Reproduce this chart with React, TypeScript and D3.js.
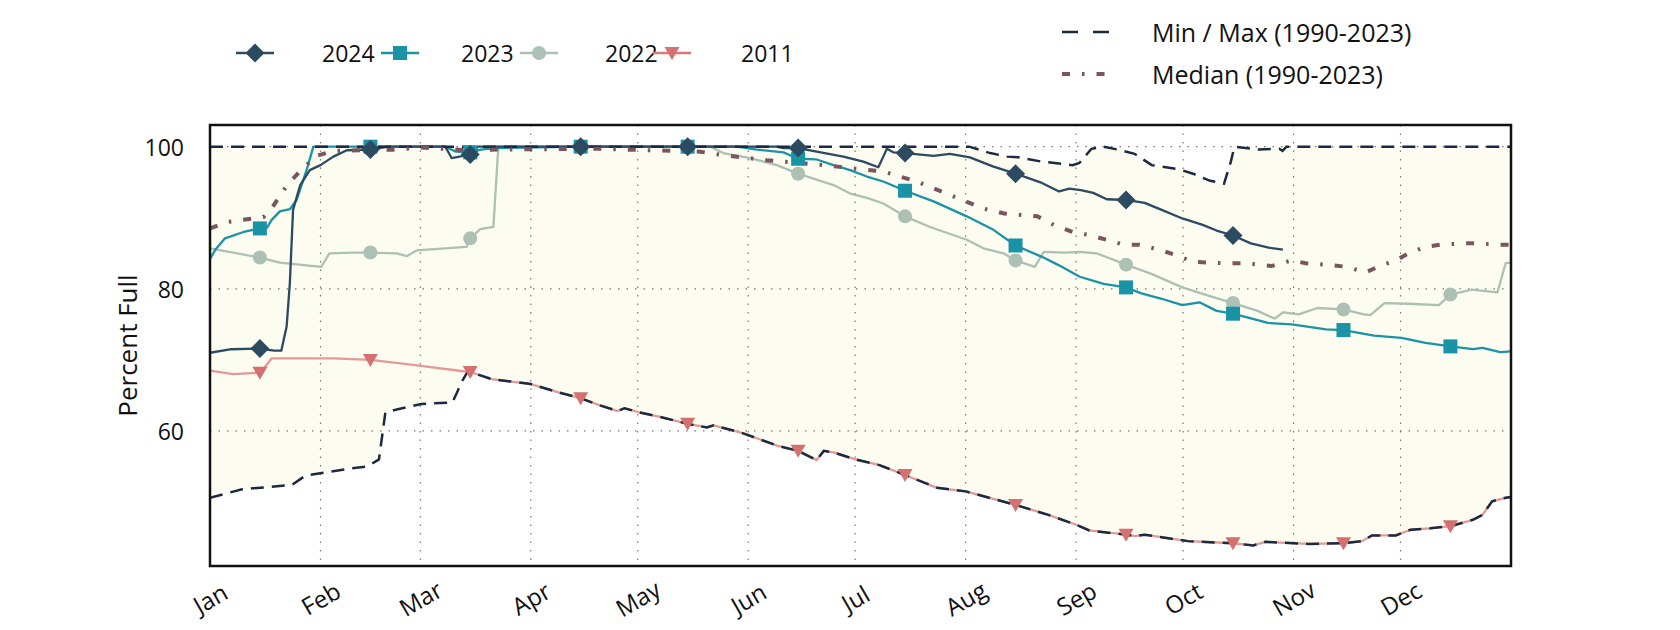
import React, { useEffect } from "react";
import * as d3 from "d3";

// day-of-year (0 = Jan 1) , percent full
const s2024: [number, number][] = [
  [0, 71.0], [6, 71.5], [14, 71.6], [18, 71.3], [20, 71.3], [21.5, 74.7], [22.4, 80.8], [23.3, 91.1],
  [25.3, 94.6], [28, 96.7], [31, 97.4], [34.6, 98.6], [38.4, 99.5], [45, 99.6], [50, 100], [66, 100],
  [67.8, 98.4], [70, 98.6], [73, 98.9], [75, 100], [104, 100], [134, 100], [159, 100], [160.8, 99.8],
  [165, 99.8], [170.2, 99.3], [177.7, 98.6], [183.3, 97.9], [187.5, 97.1], [188.9, 98.6], [189.9, 99.7],
  [191.7, 99.2], [195, 99.1], [203, 98.7], [207.6, 99.0], [213.2, 98.5], [219.8, 97.2], [226, 96.2],
  [233.4, 94.9], [238.2, 93.7], [241.1, 94.1], [244.3, 93.9], [247.8, 93.5], [251.6, 92.6], [257, 92.5],
  [262.2, 92.1], [267, 91.1], [272.8, 89.9], [278.5, 89.0], [282.4, 88.2], [287, 87.5], [292, 86.4],
  [297, 85.8], [301, 85.5],
];

const s2023: [number, number][] = [
  [0, 84.2], [1.5, 85.5], [4.2, 87.1], [9.4, 88.0], [14, 88.5], [16, 88.6], [17.3, 89.7], [19.6, 90.9],
  [22.4, 91.2], [24.3, 92.5], [27.1, 96.7], [29, 100], [45, 100], [66, 100], [69, 99.3], [73, 99.2],
  [76, 99.6], [80, 99.8], [104, 100], [134, 100], [147.8, 100], [153.4, 99.6], [160.9, 99.2], [165, 98.3],
  [170.2, 98.2], [174.9, 97.4], [179.6, 96.7], [184.3, 95.8], [188.9, 95.1], [195, 93.8], [203, 92.3],
  [212.3, 90.2], [219.8, 88.3], [226, 86.1], [233.4, 84.5], [238.2, 83.3], [244, 81.7], [250.7, 80.7],
  [257, 80.2], [261.1, 79.4], [267, 78.6], [272.8, 77.7], [277.6, 78.1], [282.4, 76.9], [287, 76.5],
  [296.8, 75.2], [303.5, 75.0], [313.1, 74.3], [318, 74.2], [326.6, 73.4], [334.3, 73.1], [341, 72.4],
  [348, 71.9], [354.3, 71.5], [357, 71.7], [362, 71.1], [365, 71.2],
];

const s2022: [number, number][] = [
  [0, 85.7], [14, 84.4], [19.6, 83.7], [31.2, 83.1], [33.5, 85.0], [40, 85.1], [45, 85.1], [52.4, 85.0],
  [55.2, 84.6], [58, 85.4], [72, 85.9], [73, 87.1], [75.8, 88.4], [79.5, 88.7], [80.9, 100], [104, 100],
  [134, 100], [140.3, 100], [144, 99.1], [151.5, 98.4], [159, 97.4], [165, 96.2], [174.9, 94.6],
  [179.6, 93.4], [184.3, 92.8], [188.9, 92.0], [195, 90.2], [202, 88.7], [212.3, 86.9], [217, 85.7],
  [222.6, 85.0], [226, 84.0], [231.4, 83.1], [233.9, 85.2], [240, 85.1], [244, 85.2], [248.7, 85.0],
  [257, 83.4], [264.1, 82.1], [272.8, 80.2], [278.5, 79.3], [287, 78.0], [293.9, 76.9], [298.7, 75.8],
  [301.1, 76.7], [305.4, 76.4], [310.7, 77.3], [318, 77.1], [323.7, 76.4], [325.5, 76.3], [329.5, 78.0],
  [336.2, 77.9], [344.8, 77.7], [348, 79.2], [354, 79.9], [361.2, 79.5], [363.5, 83.6], [365, 83.7],
];

const s2011: [number, number][] = [
  [0, 68.5], [6.5, 68.0], [14, 68.2], [15.4, 69.0], [17.3, 70.2], [34.6, 70.2], [45, 70.0], [57, 69.3],
  [71, 68.4], [73, 68.3], [79, 67.3], [90, 66.6], [98, 65.4], [104, 64.6], [109.4, 63.6], [114.4, 62.8],
  [116.3, 63.2], [120.5, 62.6], [126.9, 61.9], [134, 61.0], [139.4, 60.5], [141.3, 60.8], [149.4, 59.7],
  [159.3, 57.9], [165, 57.2], [170.2, 55.9], [172.2, 57.2], [174.9, 57.0], [181, 56.0], [187.8, 55.2],
  [195, 53.8], [204, 52.0], [212, 51.5], [226, 49.6], [235.2, 48.2], [243, 46.8], [246.7, 46.0],
  [257, 45.4], [259.5, 45.2], [262.2, 45.4], [274.4, 44.5], [287, 44.2], [292.7, 43.9], [296.1, 44.4],
  [308.3, 44.1], [318, 44.2], [323.2, 44.5], [326, 45.3], [332.7, 45.3], [336.8, 46.1], [342.3, 46.3],
  [348, 46.6], [354.3, 47.5], [357, 48.2], [359.7, 50.1], [363.5, 50.6], [365, 50.7],
];

// min before it joins the 2011 curve in mid March
const minEarly: [number, number][] = [
  [0, 50.6], [9, 51.8], [23, 52.4], [26.7, 53.7], [39.2, 54.7], [44.2, 55.0], [47.4, 56.0], [49.2, 62.6],
  [53, 63.1], [59.3, 63.8], [68, 64.0], [69.3, 65.4], [70.5, 66.8], [72, 68.1],
];

const maxVals: [number, number][] = [
  [0, 100], [213, 100], [218.9, 99.1], [223.6, 98.6], [226.9, 98.5], [233.3, 97.9], [242, 97.4],
  [243.9, 97.7], [247.3, 99.7], [250.7, 100], [255.5, 99.5], [259.4, 99], [264.2, 97.4], [267.1, 97.2],
  [271.9, 96.8], [275.8, 96.2], [280.6, 95.2], [284.5, 94.8], [286.4, 97.9], [287.4, 100], [294.1, 99.6],
  [300, 99.7], [300.9, 99.4], [302, 100], [365, 100],
];

const median: [number, number][] = [
  [0, 88.5], [4.7, 89.4], [15, 90.1], [17.8, 91.7], [21.5, 94.5], [25.3, 96.6], [29.9, 98.7], [34.6, 99.4],
  [53.3, 99.6], [58.9, 99.9], [72, 99.5], [81.4, 99.6], [109, 99.7], [137.5, 99.3], [144, 98.8],
  [156.2, 98.1], [165.5, 97.7], [172.1, 97.4], [179.6, 97.0], [188.9, 96.5], [198.3, 95.1], [207.6, 93.2],
  [217, 91.3], [222.8, 90.6], [232.1, 90.2], [236.7, 89.0], [242, 88.0], [246.3, 87.6], [251.6, 86.9],
  [256.4, 86.2], [260.8, 86.2], [267, 85.4], [271.8, 84.6], [275.7, 83.8], [284.3, 83.6], [290.1, 83.6],
  [297.8, 83.2], [303.5, 84.0], [307.4, 83.6], [313.1, 83.4], [318.9, 83.1], [324.2, 82.3], [328.5, 83.3],
  [332.8, 84.0], [336.2, 85.0], [341, 85.9], [345.1, 86.2], [351.6, 86.4], [355.5, 86.4], [362, 86.2],
  [365, 86.2],
];

const minVals: [number, number][] = minEarly.concat(s2011.filter((d) => d[0] >= 73));

const monthLabels = ["Jan", "Feb", "Mar", "Apr", "May", "Jun", "Jul", "Aug", "Sep", "Oct", "Nov", "Dec"];
const monthStarts = [0, 31, 59, 90, 120, 151, 181, 212, 243, 273, 304, 334];
const markerDays = [14, 45, 73, 104, 134, 165, 195, 226, 257, 287, 318, 348];
const yTicks = [60, 80, 100];

const FONT = "'Open Sans', sans-serif";

const shapes: Record<string, string> = {
  diamond: "M0,-9.5L9.5,0L0,9.5L-9.5,0Z",
  square: "M-7,-7L7,-7L7,7L-7,7Z",
  circle: "M7,0A7,7 0 1,1 -7,0A7,7 0 1,1 7,0Z",
  triangle: "M-7.5,-6L7.5,-6L0,7Z",
};

const series = [
  { name: "2011", data: s2011, line: "#e39a97", legendLine: "#d97a79", mark: "#d4706f", shape: "triangle" },
  { name: "2022", data: s2022, line: "#adc0b5", legendLine: "#adc0b5", mark: "#adc0b5", shape: "circle" },
  { name: "2023", data: s2023, line: "#1a93a6", legendLine: "#1a93a6", mark: "#1a93a6", shape: "square" },
  { name: "2024", data: s2024, line: "#2c4a60", legendLine: "#2c4a60", mark: "#2c4a60", shape: "diamond" },
];

const legendOrder = ["2024", "2023", "2022", "2011"];
const legendMarkX = [255, 400, 539, 672];
const legendTextX = [322, 461, 605, 741];

export default function App() {
  useEffect(() => {
    document.body.style.margin = "0";
  }, []);

  const W = 1680;
  const H = 630;
  const left = 210, right = 1511, top = 125, bottom = 566;

  const x = d3.scaleLinear().domain([0, 365]).range([left, right]);
  const y = d3.scaleLinear().domain([41.0, 103.05]).range([bottom, top]);

  const line = d3
    .line<[number, number]>()
    .x((d) => x(d[0]))
    .y((d) => y(d[1]));

  function interp(arr: [number, number][], day: number) {
    const i = d3.bisector((d: [number, number]) => d[0]).left(arr, day);
    if (i <= 0) return arr[0][1];
    if (i >= arr.length) return arr[arr.length - 1][1];
    const a = arr[i - 1], b = arr[i];
    if (b[0] === day) return b[1];
    return a[1] + ((b[1] - a[1]) * (day - a[0])) / (b[0] - a[0]);
  }

  // band between min and max
  const band = d3
    .area<number>()
    .x((d) => x(d))
    .y0((d) => y(interp(minVals, d)))
    .y1((d) => y(interp(maxVals, d)));
  const bandDays = Array.from(new Set([...minVals, ...maxVals].map((d) => d[0]))).sort((a, b) => a - b);

  return (
    <svg width={W} height={H} style={{ display: "block", background: "#fff" }}>
      <defs>
        <clipPath id="plot">
          <rect x={left} y={top} width={right - left} height={bottom - top} />
        </clipPath>
      </defs>

      <g clipPath="url(#plot)">
        <path d={band(bandDays) || ""} fill="#fcfcf1" />

        {yTicks.map((t) => (
          <line key={t} x1={left} x2={right} y1={y(t)} y2={y(t)} stroke="#777" strokeWidth={1.2} strokeDasharray="1.5,7" />
        ))}
        {monthStarts.slice(1).map((m) => (
          <line key={m} x1={x(m)} x2={x(m)} y1={top} y2={bottom} stroke="#777" strokeWidth={1.2} strokeDasharray="1.5,7" />
        ))}

        {series.map((s) => (
          <path key={s.name} d={line(s.data) || ""} fill="none" stroke={s.line} strokeWidth={2.3} strokeLinejoin="round" />
        ))}

        <path d={line(maxVals) || ""} fill="none" stroke="#1b2a41" strokeWidth={2.5} strokeDasharray="13,8" />
        <path d={line(minVals) || ""} fill="none" stroke="#1b2a41" strokeWidth={2.5} strokeDasharray="13,8" />
        <path d={line(median) || ""} fill="none" stroke="#7a5560" strokeWidth={4} strokeDasharray="8,12,2.5,12" />

        {series.map((s) =>
          s.data
            .filter((d) => markerDays.includes(d[0]))
            .map((d) => (
              <path
                key={s.name + d[0]}
                d={shapes[s.shape]}
                transform={`translate(${x(d[0])},${y(d[1])})`}
                fill={s.mark}
              />
            ))
        )}
      </g>

      <rect x={left} y={top} width={right - left} height={bottom - top} fill="none" stroke="#111" strokeWidth={2.5} />

      {yTicks.map((t) => (
        <text key={t} x={184} y={y(t)} textAnchor="end" dominantBaseline="central" fontFamily={FONT} fontSize={23} fill="#111">
          {t}
        </text>
      ))}

      {monthStarts.map((m, i) => (
        <text
          key={m}
          x={x(m)}
          y={598}
          textAnchor="middle"
          dominantBaseline="central"
          fontFamily={FONT}
          fontSize={24}
          fill="#111"
          transform={`rotate(-30, ${x(m)}, 598)`}
        >
          {monthLabels[i]}
        </text>
      ))}

      <text
        x={127}
        y={(top + bottom) / 2}
        textAnchor="middle"
        dominantBaseline="central"
        fontFamily={FONT}
        fontSize={26}
        fill="#111"
        transform={`rotate(-90, 127, ${(top + bottom) / 2})`}
      >
        Percent Full
      </text>

      {legendOrder.map((name, i) => {
        const s = series.find((d) => d.name === name)!;
        const mx = legendMarkX[i];
        const ly = 53;
        return (
          <g key={name}>
            <line x1={mx - 19} x2={mx + 19} y1={ly} y2={ly} stroke={s.legendLine} strokeWidth={2.3} />
            <path d={shapes[s.shape]} transform={`translate(${mx},${ly})`} fill={s.mark} />
            <text x={legendTextX[i]} y={ly} dominantBaseline="central" fontFamily={FONT} fontSize={23} fill="#111">
              {name}
            </text>
          </g>
        );
      })}

      <line x1={1062} x2={1114} y1={32} y2={32} stroke="#1b2a41" strokeWidth={2.5} strokeDasharray="16,15" />
      <text x={1152} y={32} dominantBaseline="central" fontFamily={FONT} fontSize={25} fill="#111">
        Min / Max (1990-2023)
      </text>
      <line x1={1062} x2={1114} y1={74} y2={74} stroke="#7a5560" strokeWidth={4} strokeDasharray="8,12,2.5,12" />
      <text x={1152} y={74} dominantBaseline="central" fontFamily={FONT} fontSize={25} fill="#111">
        Median (1990-2023)
      </text>
    </svg>
  );
}
